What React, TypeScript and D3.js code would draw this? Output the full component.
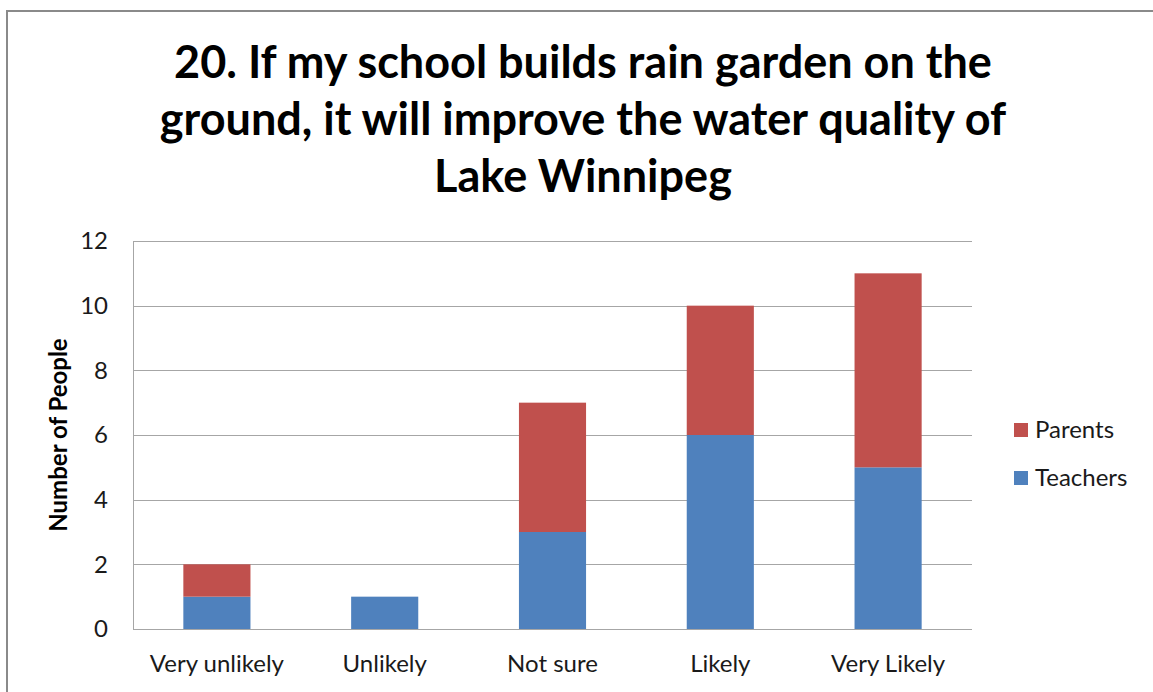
import React, { useEffect, useRef } from 'react';
import * as d3 from 'd3';

const categories = ['Very unlikely', 'Unlikely', 'Not sure', 'Likely', 'Very Likely'];
const teachers = [1, 1, 3, 6, 5];
const parents = [1, 0, 4, 4, 6];
const yTicks = [0, 2, 4, 6, 8, 10, 12];
const titleLines = [
    '20. If my school builds rain garden on the',
    'ground, it will improve the water quality of',
    'Lake Winnipeg',
];
const seriesNames = ['Parents', 'Teachers'];

function App() {
    const ref = useRef<SVGSVGElement>(null);
    const width = 1153;
    const height = 692;

    useEffect(() => {
        const svg = d3.select(ref.current);
        svg.selectAll('*').remove();

        const font = 'Lato, Carlito, Calibri, sans-serif';
        const margin = { top: 241, right: 181, bottom: 63, left: 133 };
        const chartWidth = width - margin.left - margin.right;
        const chartHeight = height - margin.top - margin.bottom;

        // chart border
        svg.append('rect')
            .attr('x', 7)
            .attr('y', 11)
            .attr('width', width + 10)
            .attr('height', height + 10)
            .attr('fill', 'white')
            .attr('stroke', '#8a8a8a')
            .attr('stroke-width', 2);

        svg.append('g')
            .selectAll('text')
            .data(titleLines)
            .enter().append('text')
            .attr('x', 583)
            .attr('y', (d, i) => 78 + i * 57)
            .attr('text-anchor', 'middle')
            .attr('font-family', font)
            .attr('font-weight', 'bold')
            .attr('font-size', 45)
            .attr('fill', '#000')
            .text(d => d);

        const x = d3.scaleBand()
            .domain(categories)
            .range([0, chartWidth])
            .paddingInner(0.6)
            .paddingOuter(0.3);

        const y = d3.scaleLinear()
            .domain([0, 12])
            .range([chartHeight, 0]);

        const g = svg.append('g')
            .attr('transform', `translate(${margin.left},${margin.top})`);

        g.selectAll('.grid')
            .data(yTicks)
            .enter().append('line')
            .attr('x1', 0)
            .attr('x2', chartWidth)
            .attr('y1', d => Math.round(y(d)) + 0.5)
            .attr('y2', d => Math.round(y(d)) + 0.5)
            .attr('stroke', '#a6a6a6')
            .attr('stroke-width', 1);

        g.append('line')
            .attr('x1', 0.5).attr('x2', 0.5)
            .attr('y1', 0).attr('y2', chartHeight)
            .attr('stroke', '#a6a6a6');

        g.selectAll('.ytick')
            .data(yTicks)
            .enter().append('text')
            .attr('x', -25)
            .attr('y', d => y(d))
            .attr('dy', '0.35em')
            .attr('text-anchor', 'end')
            .attr('font-family', font)
            .attr('font-size', 24)
            .attr('fill', '#1a1a1a')
            .text(d => d);

        const stacked = categories.map((c, i) => ({ c, t: teachers[i], p: parents[i] }));

        g.selectAll('.teachers')
            .data(stacked)
            .enter().append('rect')
            .attr('x', d => x(d.c)!)
            .attr('width', x.bandwidth())
            .attr('y', d => y(d.t))
            .attr('height', d => y(0) - y(d.t))
            .attr('fill', '#4f81bd');

        g.selectAll('.parents')
            .data(stacked.filter(d => d.p > 0))
            .enter().append('rect')
            .attr('x', d => x(d.c)!)
            .attr('width', x.bandwidth())
            .attr('y', d => y(d.t + d.p))
            .attr('height', d => y(d.t) - y(d.t + d.p))
            .attr('fill', '#c0504d');

        g.selectAll('.xlabel')
            .data(categories)
            .enter().append('text')
            .attr('x', d => x(d)! + x.bandwidth() / 2)
            .attr('y', chartHeight + 43)
            .attr('text-anchor', 'middle')
            .attr('font-family', font)
            .attr('font-size', 24)
            .attr('fill', '#1a1a1a')
            .text(d => d);

        svg.append('text')
            .attr('transform', `translate(67,${margin.top + chartHeight / 2}) rotate(-90)`)
            .attr('text-anchor', 'middle')
            .attr('font-family', font)
            .attr('font-weight', 'bold')
            .attr('font-size', 24)
            .attr('fill', '#000')
            .text('Number of People');

        const colors = ['#c0504d', '#4f81bd'];
        const legend = svg.append('g').attr('transform', 'translate(1014,430)');
        seriesNames.forEach((name, i) => {
            legend.append('rect')
                .attr('x', 0)
                .attr('y', i * 48 - 7)
                .attr('width', 14)
                .attr('height', 14)
                .attr('fill', colors[i]);
            legend.append('text')
                .attr('x', 21)
                .attr('y', i * 48)
                .attr('dy', '0.35em')
                .attr('font-family', font)
                .attr('font-size', 24)
                .attr('fill', '#1a1a1a')
                .text(name);
        });
    }, []);

    return <svg ref={ref} width={width} height={height} style={{ position: 'absolute', left: 0, top: 0 }}></svg>;
}

export default App;
